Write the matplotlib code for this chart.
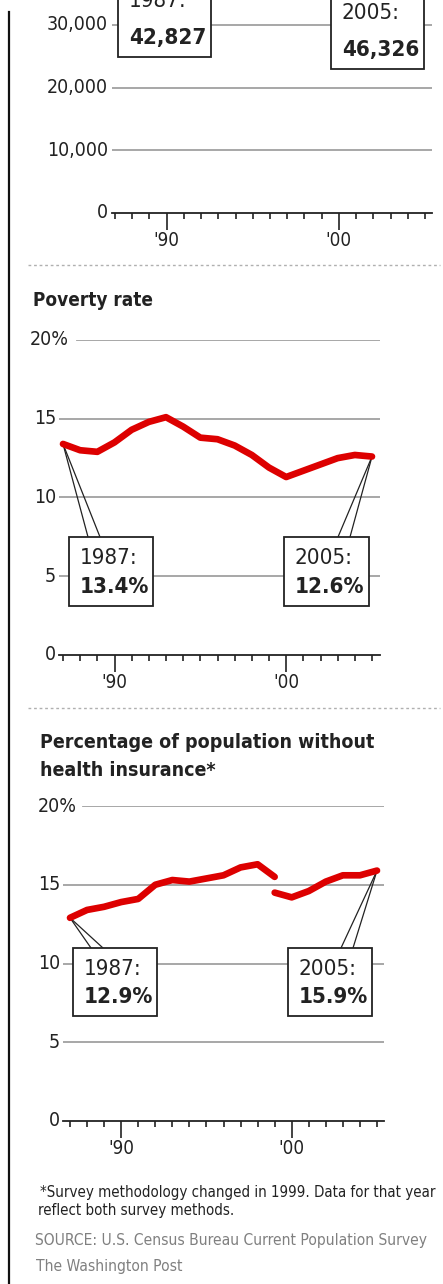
import matplotlib.pyplot as plt
import matplotlib.transforms as mtransforms
from matplotlib.patches import Rectangle
from matplotlib.lines import Line2D

W, H = 443, 1284

plt.rcParams['font.family'] = ['DejaVu Sans']
plt.rcParams['font.stretch'] = 'condensed'

# data
years = list(range(1987, 2006))
poverty = [13.4, 13.0, 12.9, 13.5, 14.3, 14.8, 15.1, 14.5, 13.8, 13.7, 13.3,
           12.7, 11.9, 11.3, 11.7, 12.1, 12.5, 12.7, 12.6]
ins_years_old = list(range(1987, 2000))
uninsured_old = [12.9, 13.4, 13.6, 13.9, 14.1, 15.0, 15.3, 15.2, 15.4, 15.6,
                 16.1, 16.3, 15.5]
ins_years_new = list(range(1999, 2006))
uninsured_new = [14.5, 14.2, 14.6, 15.2, 15.6, 15.6, 15.9]
income_years = [1987, 2005]
income = [42827, 46326]

RED = '#dd0000'
GRID = '#a0a0a0'
INK = '#222222'

fig = plt.figure(figsize=(W / 100, H / 100), dpi=100)
# pixel coords, origin top-left
px = mtransforms.Affine2D().scale(1 / W, -1 / H).translate(0, 1) + fig.transFigure


def make_axes(left, right, p1987, p2005, y0, ytop, vtop):
    ppy = (p2005 - p1987) / 18
    ax = fig.add_axes([left / W, 1 - y0 / H, (right - left) / W, (y0 - ytop) / H])
    ax.set_xlim(1987 - (p1987 - left) / ppy, 2005 + (right - p2005) / ppy)
    ax.set_ylim(0, vtop)
    ax.patch.set_alpha(0)
    for s in ['top', 'right', 'left']:
        ax.spines[s].set_visible(False)
    ax.spines['bottom'].set_color(INK)
    ax.spines['bottom'].set_linewidth(1.3)
    ax.spines['bottom'].set_zorder(3)
    ax.set_xticks([1990, 2000])
    ax.set_xticklabels(["'90", "'00"])
    ax.set_xticks(years, minor=True)
    ax.tick_params(axis='x', which='major', length=12.5, width=1.2, color=INK,
                   labelsize=13.5, pad=0.5, labelcolor=INK)
    ax.tick_params(axis='x', which='minor', length=4.5, width=1.2, color=INK)
    ax.set_yticks([])
    return ax


def y_labels(ax, values, labels, xr, first_left=None):
    tr = mtransforms.blended_transform_factory(px, ax.transData)
    for v, lab in zip(values, labels):
        if first_left is not None and lab.endswith('%'):
            ax.text(first_left, v, lab, transform=tr, ha='left', va='center',
                    fontsize=14, color=INK, clip_on=False)
        else:
            ax.text(xr, v, lab, transform=tr, ha='right', va='center',
                    fontsize=14, color=INK, clip_on=False)


def grid(ax, values, left, right, top_start=None):
    for v in values:
        xmin = 0
        if top_start is not None and v == max(values):
            xmin = (top_start - left) / (right - left)
        ax.axhline(v, xmin=xmin, color=GRID, lw=1.3, zorder=1)


def callout(ax, year, val, box, lead_x, lines):
    x0, y0, x1, y1 = box
    fig.add_artist(Rectangle((x0, y0), x1 - x0, y1 - y0, transform=px,
                             facecolor='white', edgecolor=INK, lw=1.3, zorder=4))
    for lx in lead_x:
        ax.annotate('', xy=(year, val), xycoords='data', xytext=(lx, y0),
                    textcoords=px, annotation_clip=False, zorder=2,
                    arrowprops=dict(arrowstyle='-', color=INK, lw=0.9,
                                    shrinkA=0, shrinkB=0))
    fig.text(x0 + 11, y0 + 21, lines[0], transform=px, fontsize=16,
             color=INK, va='center', ha='left', zorder=5)
    fig.text(x0 + 11, y1 - 19, lines[1], transform=px, fontsize=16,
             color=INK, va='center', ha='left', weight='bold', zorder=5)


# left rule
fig.add_artist(Line2D([9, 9], [12, H], transform=px, color='#111111', lw=1.6))

# ---- median income panel (top, cut off) ----
ax0 = make_axes(112, 432, 115, 425, 213, 213 - 50000 * 188 / 30000, 50000)
grid(ax0, [10000, 20000, 30000, 40000], 112, 432)
y_labels(ax0, [0, 10000, 20000, 30000], ['0', '10,000', '20,000', '30,000'], 108)
callout(ax0, income_years[0], income[0], (118, -20, 211, 57), [140, 152],
        ['%d:' % income_years[0], '{:,}'.format(income[0])])
callout(ax0, income_years[1], income[1], (331, -8, 424, 69), [385, 397],
        ['%d:' % income_years[1], '{:,}'.format(income[1])])

# separators
for sy in [265, 708]:
    fig.add_artist(Line2D([28, 440], [sy, sy], transform=px, color='#b0b0b0',
                          lw=1, linestyle=(0, (2, 2))))

# ---- poverty rate ----
fig.text(33, 300, 'Poverty rate', transform=px, fontsize=13.6, weight='bold',
         color=INK, va='center')
ax1 = make_axes(59, 380, 63, 372, 655, 340, 20)
grid(ax1, [5, 10, 15, 20], 59, 380, top_start=77)
y_labels(ax1, [0, 5, 10, 15, 20], ['0', '5', '10', '15', '20%'], 56, first_left=30)
ax1.plot(years, poverty, color=RED, lw=4.8, solid_capstyle='round',
         solid_joinstyle='round', zorder=3, clip_on=False)
callout(ax1, years[0], poverty[0], (69, 537, 153, 606), [88, 100],
        ['%d:' % years[0], '%.1f%%' % poverty[0]])
callout(ax1, years[-1], poverty[-1], (284, 537, 369, 606), [338, 350],
        ['%d:' % years[-1], '%.1f%%' % poverty[-1]])

# ---- uninsured ----
fig.text(40, 742, 'Percentage of population without', transform=px,
         fontsize=14, weight='bold', color=INK, va='center')
fig.text(40, 770, 'health insurance*', transform=px,
         fontsize=14, weight='bold', color=INK, va='center')
ax2 = make_axes(63, 384, 70, 377, 1121, 806, 20)
grid(ax2, [5, 10, 15, 20], 63, 384, top_start=83)
y_labels(ax2, [0, 5, 10, 15, 20], ['0', '5', '10', '15', '20%'], 60, first_left=38)
for yy, vv in [(ins_years_old, uninsured_old), (ins_years_new, uninsured_new)]:
    ax2.plot(yy, vv, color=RED, lw=4.8, solid_capstyle='round',
             solid_joinstyle='round', zorder=3, clip_on=False)
callout(ax2, ins_years_old[0], uninsured_old[0], (73, 948, 157, 1016), [91, 103],
        ['%d:' % ins_years_old[0], '%.1f%%' % uninsured_old[0]])
callout(ax2, ins_years_new[-1], uninsured_new[-1], (288, 948, 372, 1016), [341, 353],
        ['%d:' % ins_years_new[-1], '%.1f%%' % uninsured_new[-1]])

# ---- notes ----
fig.text(40, 1192, '*Survey methodology changed in 1999. Data for that year',
         transform=px, fontsize=10.8, color=INK, va='center')
fig.text(38, 1210, 'reflect both survey methods.', transform=px, fontsize=10.8,
         color=INK, va='center')
fig.text(35, 1240, 'SOURCE: U.S. Census Bureau Current Population Survey',
         transform=px, fontsize=11.2, color='#808080', va='center')
fig.text(36, 1267, 'The Washington Post', transform=px, fontsize=11.2,
         color='#808080', va='center')

fig.savefig('out.png', dpi=100)
